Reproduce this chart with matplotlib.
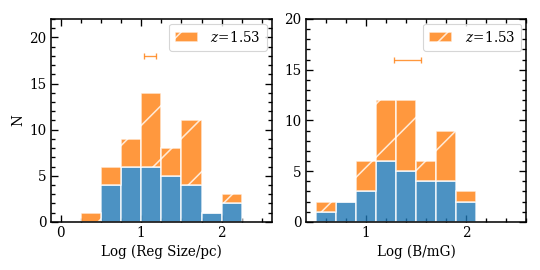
import matplotlib
matplotlib.use("Agg")
import matplotlib.pyplot as plt
import numpy as np
from matplotlib.ticker import MultipleLocator

plt.rcParams['font.family'] = 'DejaVu Serif'
plt.rcParams['mathtext.fontset'] = 'dejavuserif'
plt.rcParams['font.size'] = 6.1
plt.rcParams['axes.linewidth'] = 0.7
plt.rcParams['hatch.linewidth'] = 0.7

# left panel: region size
size_edges = [0.25, 0.5, 0.75, 1.0, 1.25, 1.5, 1.75, 2.0, 2.25]
size_blue = [0, 4, 6, 6, 5, 4, 1, 2]
size_orange = [1, 2, 3, 8, 3, 7, 0, 1]   # stacked on top of blue
size_err_x, size_err_y, size_err_w = 1.115, 18, 0.075

# right panel: magnetic field
b_edges = [0.5, 0.7, 0.9, 1.1, 1.3, 1.5, 1.7, 1.9, 2.1]
b_blue = [1, 2, 3, 6, 5, 4, 4, 2]
b_orange = [1, 0, 3, 6, 7, 2, 5, 1]
b_err_x, b_err_y, b_err_w = 1.415, 16, 0.133

label = r'$z\!=\!1.53$'
blue = '#1f77b4'
orange = '#ff7f0e'

fig = plt.figure(figsize=(3.375, 1.6875), dpi=160)
ax1 = fig.add_axes([0.0944, 0.178, 0.4086, 0.752])
ax2 = fig.add_axes([0.567, 0.178, 0.407, 0.752])


def panel(ax, edges, nblue, norange, ex, ey, ew, xlim, ylim, xminor):
    edges = np.array(edges)
    w = edges[1] - edges[0]
    ax.set_axisbelow(True)
    ax.bar(edges[:-1], nblue, width=w, align='edge', color=blue, alpha=0.8,
           edgecolor='white', linewidth=0.7)
    ax.bar(edges[:-1], norange, width=w, bottom=nblue, align='edge',
           color=orange, alpha=0.8, edgecolor='white', linewidth=0.7,
           hatch='/', label=label)
    ax.errorbar([ex], [ey], xerr=[ew], color=orange, alpha=0.8,
                lw=0.6, capsize=1.5, capthick=0.6)
    ax.set_xlim(*xlim)
    ax.set_ylim(*ylim)
    ax.xaxis.set_major_locator(MultipleLocator(1))
    ax.xaxis.set_minor_locator(MultipleLocator(xminor))
    ax.yaxis.set_major_locator(MultipleLocator(5))
    ax.yaxis.set_minor_locator(MultipleLocator(1))
    ax.tick_params(which='both', direction='in', top=True, right=True,
                   width=0.6, pad=2)
    ax.tick_params(which='major', length=3.2)
    ax.tick_params(which='minor', length=1.8)
    leg = ax.legend(loc='upper right', fontsize=6.1, handlelength=1.7,
                    handleheight=0.7, borderpad=0.45, handletextpad=0.9,
                    borderaxespad=0.35, framealpha=0.8)
    leg.get_frame().set_linewidth(0.5)


panel(ax1, size_edges, size_blue, size_orange, size_err_x, size_err_y,
      size_err_w, (-0.12, 2.62), (0, 22), 0.25)
ax1.set_xlabel('Log (Reg Size/pc)', labelpad=2)
ax1.set_ylabel('N', labelpad=2)

panel(ax2, b_edges, b_blue, b_orange, b_err_x, b_err_y, b_err_w,
      (0.405, 2.6), (0, 20), 0.2)
ax2.set_xlabel('Log (B/mG)', labelpad=2)

fig.savefig('out.png', dpi=160)
